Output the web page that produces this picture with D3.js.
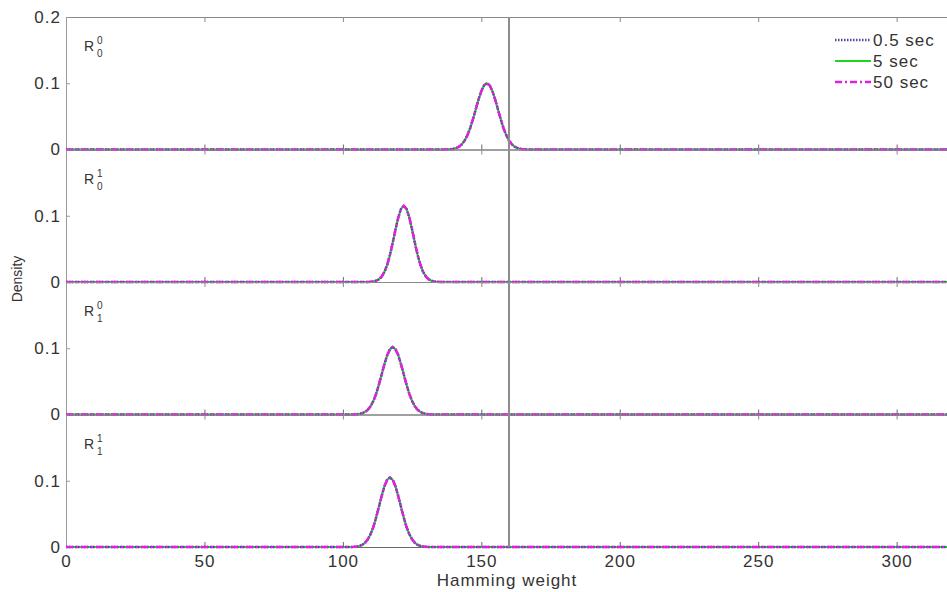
<!DOCTYPE html>
<html>
<head>
<meta charset="utf-8">
<script src="https://cdnjs.cloudflare.com/ajax/libs/d3/7.8.5/d3.min.js"></script>
<style>
  body { margin: 0; background: #fff; }
  svg { display: block; }
  .tick text, .lbl { font-family: "Liberation Sans", Arial, sans-serif; fill: #333; }
</style>
</head>
<body>
<div id="chart"></div>
<script>
// panel names: R_sub^sup
var panelSub = ["0", "0", "1", "1"];
var panelSup = ["0", "1", "0", "1"];

// first hamming weight of each density list (all other weights are 0)
var startWeight = [138, 110, 105, 104];

// density, one value per hamming weight
var density0 = [0.0002,0.0005,0.0011,0.0023,0.0044,0.0080,0.0135,0.0216,0.0325,0.0458,0.0607,0.0755,0.0882,0.0969,0.1000,0.0969,0.0882,0.0755,0.0607,0.0458,0.0325,0.0216,0.0135,0.0080,0.0044,0.0023,0.0011,0.0005,0.0002];
var density1 = [0.0003,0.0008,0.0018,0.0040,0.0081,0.0151,0.0258,0.0408,0.0592,0.0791,0.0974,0.1103,0.1150,0.1103,0.0974,0.0791,0.0592,0.0408,0.0258,0.0151,0.0081,0.0040,0.0018,0.0008,0.0003];
var density2 = [0.0004,0.0009,0.0019,0.0038,0.0071,0.0124,0.0203,0.0312,0.0448,0.0603,0.0759,0.0894,0.0987,0.1020,0.0987,0.0894,0.0759,0.0603,0.0448,0.0312,0.0203,0.0124,0.0071,0.0038,0.0019,0.0009,0.0004];
var density3 = [0.0003,0.0007,0.0016,0.0033,0.0064,0.0115,0.0193,0.0302,0.0442,0.0604,0.0769,0.0914,0.1014,0.1050,0.1014,0.0914,0.0769,0.0604,0.0442,0.0302,0.0193,0.0115,0.0064,0.0033,0.0016,0.0007,0.0003];
var densities = [density0, density1, density2, density3];

// the three durations overlap exactly in the picture
var seriesNames = ["0.5 sec", "5 sec", "50 sec"];
var threshold = 160;
var xTicks = [0, 50, 100, 150, 200, 250, 300];

var width = 947, height = 592;
var marginLeft = 66, plotTop = 17, panelH = 132.5;

var svg = d3.select("#chart").append("svg")
    .attr("width", width)
    .attr("height", height)
    .style("overflow", "hidden");

var x = d3.scaleLinear().domain([0, 320]).range([marginLeft, 952]);

var styles = {
    "0.5 sec": { color: "#4a4a9c", width: 2.5, dash: "1.5,1.5" },
    "5 sec":   { color: "#22d422", width: 2, dash: null },
    "50 sec":  { color: "#e020e0", width: 2.5, dash: "7,3,2,3" }
};
// draw order: green under, then blue dots, magenta on top
var drawOrder = ["5 sec", "0.5 sec", "50 sec"];

function curvePoints(p) {
    var pts = [[0, 0], [startWeight[p] - 1, 0]];
    densities[p].forEach(function(v, i) { pts.push([startWeight[p] + i, v]); });
    pts.push([startWeight[p] + densities[p].length, 0]);
    pts.push([320, 0]);
    return pts;
}

densities.forEach(function(d, p) {
    var pTop = plotTop + p * panelH;
    var pBot = pTop + panelH;
    var y = d3.scaleLinear().domain([0, 0.2]).range([pBot, pTop]);
    var g = svg.append("g");

    // top border with inward ticks
    g.append("g")
        .attr("transform", "translate(0," + pTop + ")")
        .call(d3.axisTop(x).tickValues(xTicks.slice(1)).tickSizeInner(-5).tickSizeOuter(0).tickFormat(""))
        .call(function(a) { a.select(".domain").attr("stroke", "#8a8a8a"); a.selectAll("line").attr("stroke", "#8a8a8a"); });

    // bottom axis
    g.append("g")
        .attr("transform", "translate(0," + pBot + ")")
        .call(d3.axisBottom(x).tickValues(xTicks).tickSizeInner(-5).tickSizeOuter(0).tickPadding(8)
            .tickFormat(p === 3 ? d3.format("d") : ""))
        .call(function(a) {
            a.select(".domain").attr("stroke", "#6a6a6a");
            a.selectAll("line").attr("stroke", "#6a6a6a");
            a.selectAll("text").attr("font-size", 17).style("letter-spacing", "1px");
        });

    // left axis
    var yt = p === 0 ? [0, 0.1, 0.2] : [0, 0.1];
    g.append("g")
        .attr("transform", "translate(" + marginLeft + ",0)")
        .call(d3.axisLeft(y).tickValues(yt).tickSizeInner(-4).tickSizeOuter(0).tickPadding(5)
            .tickFormat(function(v) { return v === 0 ? "0" : d3.format(".1f")(v); }))
        .call(function(a) {
            a.select(".domain").attr("stroke", "#9a9a9a");
            a.selectAll("line").attr("stroke", "#9a9a9a");
            a.selectAll("text").attr("font-size", 17).style("letter-spacing", "1px");
        });

    var line = d3.line()
        .x(function(v) { return x(v[0]); })
        .y(function(v) { return y(v[1]); });

    drawOrder.forEach(function(name) {
        var s = styles[name];
        g.append("path")
            .datum(curvePoints(p))
            .attr("fill", "none")
            .attr("stroke", s.color)
            .attr("stroke-width", s.width)
            .attr("stroke-dasharray", s.dash)
            .attr("d", line);
    });

    // panel label R_sub^sup
    var lab = g.append("text").attr("class", "lbl")
        .attr("x", 84).attr("y", pTop + 34)
        .attr("font-size", 14);
    lab.append("tspan").text("R");
    lab.append("tspan").attr("x", 97).attr("y", pTop + 27).attr("font-size", 10).text(panelSup[p]);
    lab.append("tspan").attr("x", 97).attr("y", pTop + 40).attr("font-size", 10).text(panelSub[p]);
});

// threshold line
svg.append("line")
    .attr("x1", x(threshold)).attr("x2", x(threshold))
    .attr("y1", plotTop).attr("y2", plotTop + 4 * panelH)
    .attr("stroke", "#8c8c8c")
    .attr("stroke-width", 2);

// axis titles
svg.append("text").attr("class", "lbl")
    .attr("x", 507).attr("y", 586)
    .attr("text-anchor", "middle")
    .attr("font-size", 17)
    .style("letter-spacing", "1px")
    .text("Hamming weight");

svg.append("text").attr("class", "lbl")
    .attr("transform", "translate(22,279) rotate(-90)")
    .attr("text-anchor", "middle")
    .attr("font-size", 14)
    .text("Density");

// legend
var legend = svg.selectAll(".legend")
    .data(seriesNames)
    .enter().append("g")
    .attr("class", "legend")
    .attr("transform", function(d, i) { return "translate(0," + (40 + i * 21) + ")"; });

legend.append("line")
    .attr("x1", 835).attr("x2", 871)
    .attr("stroke", function(d) { return styles[d].color; })
    .attr("stroke-width", function(d) { return styles[d].width; })
    .attr("stroke-dasharray", function(d) { return styles[d].dash; });

legend.append("text").attr("class", "lbl")
    .attr("x", 873)
    .attr("dy", ".35em")
    .attr("font-size", 17)
    .style("letter-spacing", "1px")
    .text(function(d) { return d; });
</script>
</body>
</html>
